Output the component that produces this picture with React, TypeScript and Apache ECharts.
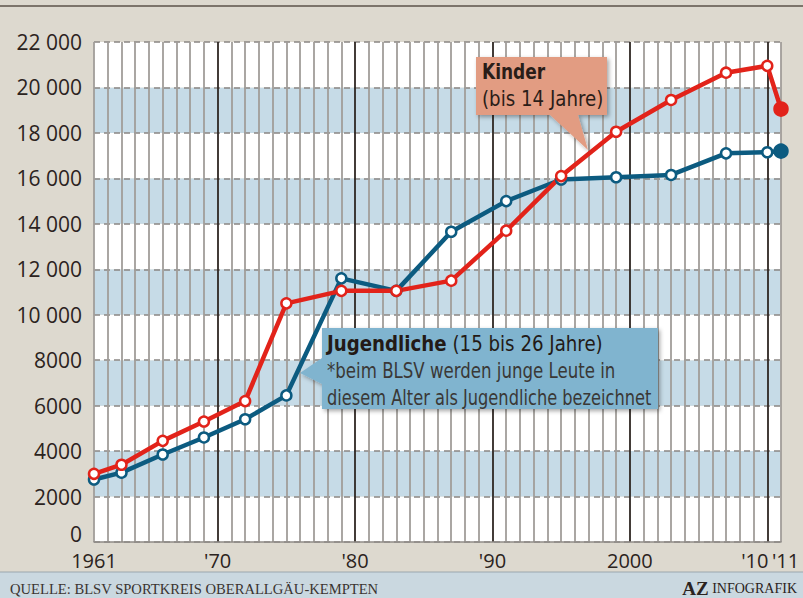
import React, { useEffect, useRef } from "react";
import * as echarts from "echarts";

const years = [1961, 1963, 1966, 1969, 1972, 1975, 1979, 1983, 1987, 1991, 1995, 1999, 2003, 2007, 2010, 2011];
const kinder = [3000, 3400, 4450, 5300, 6200, 10500, 11050, 11050, 11500, 13700, 16100, 18050, 19450, 20650, 20950, 19050];
const jugendliche = [2750, 3050, 3850, 4600, 5400, 6450, 11600, 11050, 13650, 15000, 15950, 16050, 16150, 17100, 17150, 17200];
const xLabels: Record<number, string> = { 1961: "1961", 1970: "'70", 1980: "'80", 1990: "'90", 2000: "2000", 2010: "'10", 2011: "'11" };

const RED = "#e2231a";
const BLUE = "#0c5b80";
const NARROW = "'Liberation Sans Narrow', 'DejaVu Sans Condensed', 'Noto Sans', sans-serif";
const SANS = "'Open Sans', 'Noto Sans', sans-serif";
const SERIF = "'Liberation Serif', 'DejaVu Serif', serif";

function buildData(vals: number[], color: string) {
  return vals.map((v, i) =>
    i === vals.length - 1
      ? { value: [years[i], v], symbolSize: 13, itemStyle: { color, borderColor: color } }
      : { value: [years[i], v] }
  );
}

export default function App() {
  const ref = useRef<HTMLDivElement>(null);
  useEffect(() => {
    if (!ref.current) return;
    const chart = echarts.init(ref.current, undefined, { renderer: "svg" });
    const vColors: string[] = [];
    for (let i = 0; i < 10; i++) vColors.push(i === 9 ? "#2e2622" : "#a19d99");
    const series = [
      { name: "Jugendliche", color: BLUE, vals: jugendliche },
      { name: "Kinder", color: RED, vals: kinder },
    ].map((s) => ({
      type: "line",
      name: s.name,
      data: buildData(s.vals, s.color),
      symbol: "circle",
      symbolSize: 10,
      lineStyle: { color: s.color, width: 4.5 },
      itemStyle: { color: "#ffffff", borderColor: s.color, borderWidth: 2.5 },
      z: 5,
    }));
    const boxText = (x: number, y: number, text: string, sx: number, color: string, bold = false, rich?: any) => ({
      type: "text", x, y, z: 21, scaleX: sx,
      style: {
        text, fontFamily: NARROW, fontSize: 22, fontWeight: bold ? "bold" : "normal", fill: color, verticalAlign: "middle",
        ...(rich ? { rich } : {}),
      },
    });
    chart.setOption({
      animation: false,
      backgroundColor: "#ddd9cf",
      grid: { left: 94, top: 42, right: 22, bottom: 56, containLabel: false },
      xAxis: {
        type: "value",
        min: 1961,
        max: 2011,
        interval: 1,
        axisLine: { show: true, lineStyle: { color: "#8f8b87", width: 1.5 } },
        axisTick: { show: false },
        axisLabel: {
          showMinLabel: true,
          showMaxLabel: true,
          margin: 8,
          fontFamily: SANS,
          fontSize: 20,
          color: "#2b2320",
          formatter: (v: number) => {
            const l = xLabels[v];
            if (!l) return "";
            if (v === 2010) return "{l|" + l + "}";
            if (v === 2011) return "{r|" + l + "}";
            return l;
          },
          rich: {
            l: { fontFamily: SANS, fontSize: 20, color: "#2b2320", padding: [0, 25, 0, 0] },
            r: { fontFamily: SANS, fontSize: 20, color: "#2b2320", padding: [0, 0, 0, 9] },
          },
        },
        splitLine: { show: true, lineStyle: { color: vColors, width: 1.8 } },
      },
      yAxis: {
        type: "value",
        min: 0,
        max: 22000,
        interval: 2000,
        axisLine: { show: false },
        axisTick: { show: false },
        axisLabel: {
          margin: 12,
          fontFamily: SANS,
          fontSize: 21,
          color: "#2b2320",
          formatter: (v: number) => (v === 0 ? "{z|0}" : v >= 10000 ? Math.floor(v / 1000) + " " + "000" : String(v)),
          rich: { z: { fontFamily: SANS, fontSize: 21, color: "#2b2320", padding: [0, 0, 16, 0] } },
        },
        splitLine: { show: true, lineStyle: { color: "#8a8784", width: 1.5, type: [6, 4] } },
        splitArea: { show: true, areaStyle: { color: ["#ffffff", "#c6dbe7"] } },
      },
      series,
      graphic: [
        { type: "line", shape: { x1: 0, y1: 6, x2: 803, y2: 6 }, style: { stroke: "#5b524a", lineWidth: 1.5 } },
        { type: "rect", shape: { x: 0, y: 572, width: 803, height: 26 }, style: { fill: "#cad8e0" } },
        { type: "line", shape: { x1: 0, y1: 572, x2: 803, y2: 572 }, style: { stroke: "#9aa6ad", lineWidth: 1 } },
        {
          type: "text", x: 10, y: 589,
          style: { text: "QUELLE: BLSV SPORTKREIS OBERALLGÄU-KEMPTEN", fontFamily: SERIF, fontSize: 14.6, fill: "#3b3430", verticalAlign: "middle" },
        },
        {
          type: "text", x: 797, y: 588,
          style: {
            text: "{a|AZ}{b| INFOGRAFIK}", align: "right", verticalAlign: "middle",
            rich: {
              a: { fontFamily: SERIF, fontSize: 19, fontWeight: "bold", fill: "#2b2320" },
              b: { fontFamily: SERIF, fontSize: 14, fill: "#2b2320" },
            },
          },
        },
        {
          type: "polygon", z: 20,
          shape: { points: [[476, 57], [607, 57], [607, 115], [578, 115], [588, 150], [550, 115], [476, 115]] },
          style: { fill: "#e29c82", shadowBlur: 4, shadowOffsetX: 2, shadowOffsetY: 2, shadowColor: "rgba(0,0,0,0.35)" },
        },
        boxText(482, 71, "Kinder", 0.86, "#2a1d18", true),
        boxText(482, 98, "(bis 14 Jahre)", 0.92, "#2a1d18"),
        {
          type: "polygon", z: 20,
          shape: { points: [[322, 328], [658, 328], [658, 409], [322, 409], [322, 384], [300, 373], [322, 358]] },
          style: { fill: "#80b4cf", shadowBlur: 4, shadowOffsetX: 2, shadowOffsetY: 2, shadowColor: "rgba(0,0,0,0.35)" },
        },
        boxText(327, 343, "{b|Jugendliche} (15 bis 26 Jahre)", 0.92, "#231a16", false, {
          b: { fontFamily: NARROW, fontSize: 22, fontWeight: "bold", fill: "#231a16" },
        }),
        boxText(327, 370, "*beim BLSV werden junge Leute in", 0.84, "#3a3836"),
        boxText(327, 397, "diesem Alter als Jugendliche bezeichnet", 0.82, "#3a3836"),
      ],
    });
    return () => chart.dispose();
  }, []);
  return <div ref={ref} style={{ position: "fixed", left: 0, top: 0, width: 803, height: 598 }} />;
}
